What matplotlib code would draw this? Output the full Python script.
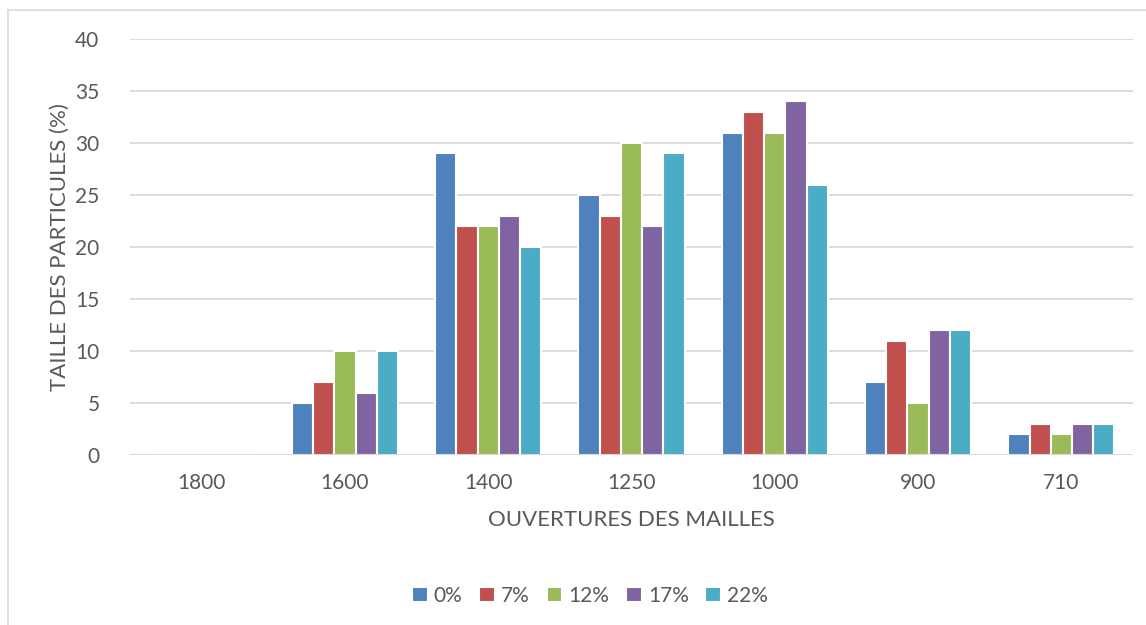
import matplotlib
matplotlib.use("Agg")
import matplotlib.pyplot as plt
import numpy as np
from matplotlib.lines import Line2D

categories = ["1800", "1600", "1400", "1250", "1000", "900", "710"]
series_names = ["0%", "7%", "12%", "17%", "22%"]
s0 = [0, 5, 29, 25, 31, 7, 2]
s7 = [0, 7, 22, 23, 33, 11, 3]
s12 = [0, 10, 22, 30, 31, 5, 2]
s17 = [0, 6, 23, 22, 34, 12, 3]
s22 = [0, 10, 20, 29, 26, 12, 3]
series = [s0, s7, s12, s17, s22]
colors = ["#4F81BD", "#C0504D", "#9BBB59", "#8064A2", "#4BACC6"]

plt.rcParams['font.family'] = ['Lato', 'DejaVu Sans']
txt = "#595959"

W, H = 1146, 625
fig = plt.figure(figsize=(W/100, H/100), dpi=100)
ax = fig.add_axes([130/W, 1-455/H, (1133-130)/W, (455-39)/H])

x = np.arange(len(categories))
slot = 0.148
for i, (vals, c) in enumerate(zip(series, colors)):
    ax.bar(x + (i-2)*slot, vals, width=slot, color=c, edgecolor="white",
           linewidth=1.5, zorder=3, label=series_names[i])

ax.set_xlim(-0.5, len(categories)-0.5)
ax.set_ylim(0, 40)
ax.set_yticks(range(0, 41, 5))
ax.set_xticks(x)
ax.set_xticklabels(categories)
ax.yaxis.grid(True, color="#D9D9D9", linewidth=1.3, zorder=0)
for s in ax.spines.values():
    s.set_visible(False)
ax.axhline(0, color="#D9D9D9", linewidth=1.3, zorder=4)
ax.tick_params(axis="both", length=0, labelsize=15, colors=txt)
ax.tick_params(axis="y", pad=22)
ax.tick_params(axis="x", pad=13)
ax.set_xlabel("OUVERTURES DES MAILLES", fontsize=16, color=txt, labelpad=12)
ax.set_ylabel("TAILLE DES PARTICULES (%)", fontsize=16, color=txt, labelpad=4)

leg = fig.legend(loc="center", bbox_to_anchor=(590/W, 1-596/H), ncol=5,
                 frameon=False, fontsize=15, handlelength=0.75, handleheight=0.75,
                 handletextpad=0.3, columnspacing=0.8, labelcolor=txt)

# figure border (top and left visible)
fig.add_artist(Line2D([8/W, 1], [1-10/H, 1-10/H], transform=fig.transFigure, color="#D9D9D9", linewidth=1.2))
fig.add_artist(Line2D([8/W, 8/W], [0, 1-10/H], transform=fig.transFigure, color="#D9D9D9", linewidth=1.2))

fig.savefig("out.png", dpi=100, facecolor="white")
